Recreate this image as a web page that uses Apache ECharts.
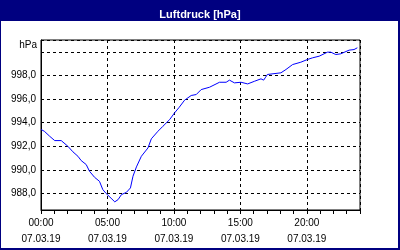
<!DOCTYPE html>
<html>
<head>
<meta charset="utf-8">
<script src="https://cdn.jsdelivr.net/npm/echarts@6/dist/echarts.min.js"></script>
<style>
html,body{margin:0;padding:0;background:#fff;}
#c{width:400px;height:250px;}
</style>
</head>
<body>
<div id="c"></div>
<script>
const titleText = 'Luftdruck [hPa]';
const unitLabel = 'hPa';
const dateLabel = '07.03.19';
const hours = [0,0.25,0.65,1.03,1.52,2.02,2.4,2.78,3.02,3.4,3.65,4.03,4.4,4.65,4.9,5.27,5.55,5.8,6.05,6.43,6.73,6.92,7.18,7.55,8.05,8.3,8.8,9.17,9.68,10.05,10.4,10.8,11.3,11.68,12.05,12.68,13.43,13.93,14.18,14.55,15.05,15.55,16.05,16.55,16.75,16.9,17.03,18.05,18.43,18.93,19.55,20.05,20.43,20.93,21.55,21.8,22.18,22.55,23.18,23.55,23.8];
const pressure = [993.42,993.27,992.85,992.48,992.48,992.0,991.53,991.15,990.79,990.45,989.88,989.37,989.03,988.33,988.0,987.6,987.29,987.48,987.9,988.1,988.47,989.46,990.25,991.15,991.86,992.63,993.27,993.69,994.26,994.83,995.3,995.9,996.3,996.38,996.8,997.0,997.42,997.42,997.6,997.37,997.42,997.28,997.5,997.71,997.6,997.85,998.08,998.22,998.5,998.92,999.12,999.35,999.49,999.63,999.97,999.97,999.77,999.83,1000.14,1000.19,1000.34];
const yTickLabels = [988,990,992,994,996,998];
const xLabelHours = [0,5,10,15,20];

const navy = '#000080';
const font = 'Liberation Sans';
const chart = echarts.init(document.getElementById('c'), null, {renderer:'canvas'});
chart.setOption({
  animation:false,
  backgroundColor:'#fff',
  title:{text:titleText,left:'center',top:4,textStyle:{color:'#fff',fontWeight:'bold',fontSize:11,fontFamily:font}},
  graphic:[
    {type:'rect',shape:{x:0,y:0,width:400,height:21},style:{fill:navy},z:-1},
    {type:'rect',shape:{x:0,y:0,width:1,height:250},style:{fill:navy}},
    {type:'rect',shape:{x:398,y:0,width:2,height:250},style:{fill:navy}},
    {type:'rect',shape:{x:0,y:248,width:400,height:2},style:{fill:navy}}
  ],
  grid:{left:41,right:40,top:40,bottom:40,show:true,borderColor:'#000',borderWidth:1,backgroundColor:'transparent'},
  xAxis:[{
    type:'value',min:0,max:24,interval:5,position:'bottom',
    axisLine:{lineStyle:{color:'#000',width:1}},
    axisTick:{show:false},
    splitLine:{show:true,lineStyle:{color:'#000',type:[3,3],width:1}},
    axisLabel:{showMaxLabel:false,margin:5,color:'#000',fontSize:10,fontFamily:font,lineHeight:16,
      formatter:function(v){
        if(xLabelHours.indexOf(v)<0) return '';
        return String(v).padStart(2,'0')+':00\n'+dateLabel;
      }}
  },{
    type:'value',min:0,max:24,interval:1,position:'bottom',
    axisLine:{show:false},
    axisTick:{show:true,length:4,lineStyle:{color:'#000'}},
    splitLine:{show:false},
    axisLabel:{show:false}
  }],
  yAxis:{
    type:'value',min:986.6,max:1001,splitNumber:7,
    name:unitLabel,nameLocation:'end',nameGap:-5,
    nameTextStyle:{align:'right',verticalAlign:'middle',padding:[0,4,0,0],color:'#000',fontSize:10,fontFamily:font},
    axisLine:{show:true,lineStyle:{color:'#000',width:1}},
    axisTick:{show:false},
    splitLine:{show:true,lineStyle:{color:'#000',type:[3,3],width:1}},
    axisLabel:{showMinLabel:false,showMaxLabel:false,margin:5,color:'#000',fontSize:10,fontFamily:font,
      formatter:function(v){
        const r = Math.round(v*10)/10;
        if(yTickLabels.indexOf(r)<0) return '';
        return r.toFixed(1).replace('.',',');
      }}
  },
  series:[{
    type:'line',xAxisIndex:0,
    data:hours.map((h,i)=>[h,pressure[i]]),
    showSymbol:false,symbol:'none',
    lineStyle:{color:'#0000ff',width:1},
    itemStyle:{color:'#0000ff'}
  }]
});
</script>
</body>
</html>
